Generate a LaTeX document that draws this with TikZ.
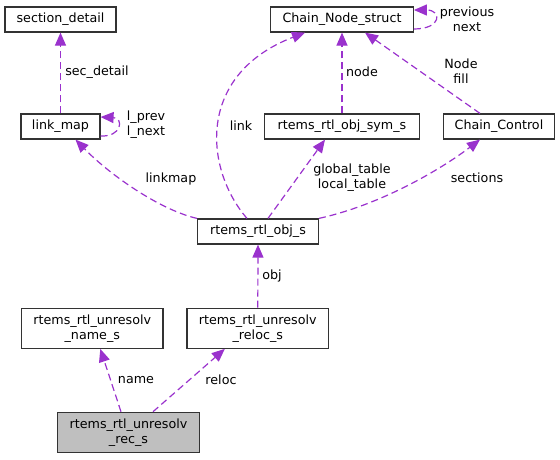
\documentclass[tikz,border=0pt]{standalone}
\usepackage{fontspec}
\setmainfont{DejaVu Sans}
\usetikzlibrary{arrows.meta}
\definecolor{edgepurple}{HTML}{9A32CD}
\definecolor{boxgray}{HTML}{BFBFBF}
\begin{document}
\begin{tikzpicture}[x=1pt,y=-1pt,
   cls/.style={draw=black!80,line width=1.2pt,fill=white,inner sep=0pt,minimum height=25pt,
      font=\fontsize{12.7}{15}\selectfont,align=center},
   rel/.style={edgepurple,line width=1.2pt,dash pattern=on 7pt off 4pt,
      -{Triangle[length=13pt,width=11pt]}},
   lbl/.style={font=\fontsize{12.7}{15}\selectfont,align=center,inner sep=0pt}]
   \useasboundingbox (0,0) rectangle (560,459);
   \node[cls,minimum width=111pt] (sdet) at (60.5,19.5) {section\_detail};
   \node[cls,minimum width=79pt] (lmap) at (60.5,126.5) {link\_map};
   \node[cls,minimum width=142.6pt] (cns) at (342,19.5) {Chain\_Node\_struct};
   \node[cls,minimum width=155pt] (sym) at (342,126.5) {rtems\_rtl\_obj\_sym\_s};
   \node[cls,minimum width=111.7pt] (ctl) at (499,126.5) {Chain\_Control};
   \node[cls,minimum width=120.6pt] (obj) at (258,231.5) {rtems\_rtl\_obj\_s};
   \node[cls,minimum width=141.3pt,minimum height=40pt] (uname) at (92.3,328.3) {rtems\_rtl\_unresolv\\\_name\_s};
   \node[cls,minimum width=141.7pt,minimum height=40pt] (reloc) at (257.8,328.3) {rtems\_rtl\_unresolv\\\_reloc\_s};
   \node[cls,fill=boxgray,minimum width=141.6pt,minimum height=40pt] (rec) at (128.5,432.3) {rtems\_rtl\_unresolv\\\_rec\_s};
   \draw[rel] (lmap.north) -- (sdet.south);
   \draw[rel] ([yshift=-9.5pt]lmap.east) .. controls (122,137) and (124,118) .. ([yshift=9.5pt]lmap.east);
   \draw[rel] ([yshift=-9.5pt]cns.east) .. controls (442,29) and (442,10) .. ([yshift=9.5pt]cns.east);
   \draw[rel] (obj.north west) .. controls (160,210) and (110,175) .. ([xshift=15pt]lmap.south);
   \draw[rel] ([xshift=-11pt]obj.north) .. controls (205,170) and (195,75) .. ([xshift=-37pt]cns.south);
   \draw[rel] ([xshift=10pt]obj.north) -- ([xshift=-17pt]sym.south);
   \draw[rel] (obj.north east) .. controls (380,205) and (440,170) .. ([xshift=-19pt]ctl.south);
   \draw[rel] (sym.north) -- (cns.south);
   \draw[rel] ([xshift=-19pt]ctl.north) -- ([xshift=23pt]cns.south);
   \draw[rel] (reloc.north) -- (obj.south);
   \draw[rel] ([xshift=-7.5pt]rec.north) -- ([xshift=8pt]uname.south);
   \draw[rel] ([xshift=24.5pt]rec.north) -- ([xshift=-33pt]reloc.south);
   \node[lbl] (lsdet) at (97,72) {sec\_detail};
   \node[lbl] (llmap) at (146,125) {l\_prev\\l\_next};
   \node[lbl] (lcns) at (467,19) {previous\\next};
   \node[lbl] (llinkmap) at (171,179) {linkmap};
   \node[lbl] (llink) at (241,126) {link};
   \node[lbl] (ltable) at (352,178) {global\_table\\local\_table};
   \node[lbl] (lsect) at (477,178) {sections};
   \node[lbl] (lnode) at (362,72) {node};
   \node[lbl] (lfill) at (461,71) {Node\\fill};
   \node[lbl] (lobj) at (272,276) {obj};
   \node[lbl] (lname) at (136,380) {name};
   \node[lbl] (lreloc) at (221,380) {reloc};
\end{tikzpicture}
\end{document}
